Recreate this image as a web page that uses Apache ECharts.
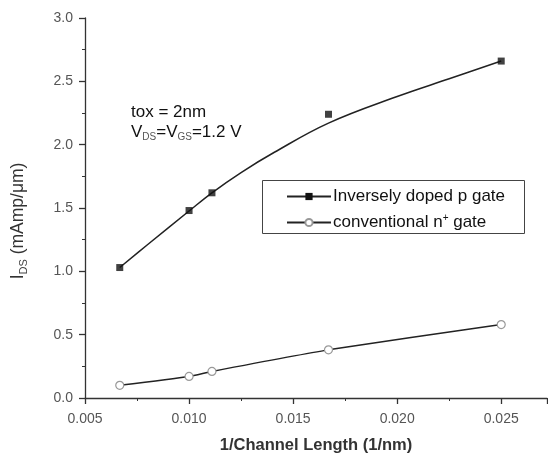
<!DOCTYPE html>
<html><head><meta charset="utf-8">
<script src="https://cdn.jsdelivr.net/npm/echarts@6/dist/echarts.min.js"></script>
<style>html,body{margin:0;padding:0;background:#fff}#c{width:548px;height:454px}</style>
</head><body><div id="c"></div>
<script>
var xTicks = [0.005, 0.010, 0.015, 0.020, 0.025];
var yTicks = [0.0, 0.5, 1.0, 1.5, 2.0, 2.5, 3.0];
var xPoints = [0.00667, 0.0100, 0.0111, 0.0167, 0.0250];
var pGate = [1.03, 1.48, 1.62, 2.24, 2.66];
var nGate = [0.10, 0.17, 0.21, 0.38, 0.58];
var fitX = [0.00667, 0.0080, 0.0100, 0.0111, 0.0125, 0.0141, 0.0167, 0.0200, 0.0225, 0.0250];
var fitY = [1.03, 1.21, 1.476, 1.62, 1.78, 1.94, 2.17, 2.38, 2.52, 2.66];
var seriesNames = ['Inversely doped p gate', 'conventional n+ gate'];

function zip(a, b) { return a.map(function (v, i) { return [v, b[i]]; }); }
var FONT = 'Liberation Sans, Arial, sans-serif';
var chart = echarts.init(document.getElementById('c'), null, {renderer: 'canvas'});
chart.setOption({
  animation: false,
  backgroundColor: '#fff',
  grid: {left: 85, top: 18, right: 1, bottom: 56, outerBoundsMode: 'none', containLabel: false},
  xAxis: {
    type: 'value', min: 0.005, max: 0.0272, interval: 0.005,
    axisLine: {lineStyle: {color: '#333', width: 1.3}},
    axisTick: {length: 6, lineStyle: {color: '#333', width: 1.3}},
    minorTick: {show: true, splitNumber: 2, length: 3, lineStyle: {color: '#333'}},
    splitLine: {show: false},
    axisLabel: {color: '#555', fontSize: 14, fontFamily: FONT, margin: 14, showMaxLabel: false,
      formatter: function (v) { return v.toFixed(3); }},
    name: '1/Channel Length (1/nm)', nameLocation: 'middle', nameGap: 39,
    nameTextStyle: {color: '#333', fontSize: 16.5, fontWeight: 'bold', fontFamily: FONT}
  },
  yAxis: {
    type: 'value', min: 0, max: 3.0, interval: 0.5,
    axisLine: {show: true, lineStyle: {color: '#333', width: 1.3}},
    axisTick: {show: true, length: 6, lineStyle: {color: '#333', width: 1.3}},
    minorTick: {show: true, splitNumber: 2, length: 3, lineStyle: {color: '#333'}},
    splitLine: {show: false},
    axisLabel: {color: '#555', fontSize: 14, fontFamily: FONT, margin: 12,
      formatter: function (v) { return v.toFixed(1); }},
    name: '{m|I}{s|DS}{m| (mAmp/μm)}', nameLocation: 'middle', nameGap: 56, nameRotate: 90,
    nameTextStyle: {color: '#333', fontFamily: FONT, padding: [0, 26, 0, 0],
      rich: {m: {fontSize: 17.5, color: '#333', fontFamily: FONT},
             s: {fontSize: 11, color: '#444', fontFamily: FONT, padding: [10, 0, 0, 0]}}}
  },
  legend: {
    left: 281, top: 183, orient: 'vertical', itemGap: 8, itemWidth: 44, itemHeight: 9,
    data: [seriesNames[0], seriesNames[1]],
    formatter: function (n) { return n === seriesNames[1] ? 'conventional n{sup|+} gate' : n; },
    textStyle: {color: '#111', fontSize: 17, fontFamily: FONT, padding: [0, 0, 0, -3],
      rich: {sup: {fontSize: 10, color: '#111', padding: [0, 0, 9, 0], fontFamily: FONT}}}
  },
  graphic: [
    {type: 'rect', shape: {x: 262.5, y: 180.5, width: 262, height: 53},
     style: {fill: 'none', stroke: '#444', lineWidth: 1}, z: 1},
    {type: 'text', left: 131, top: 104,
     style: {text: 'tox = 2nm', fill: '#111', font: '17px ' + FONT}},
    {type: 'text', left: 131, top: 124,
     style: {text: '{m|V}{s|DS}{m|=V}{s|GS}{m|=1.2 V}', fill: '#111',
       rich: {m: {fontSize: 17, fontFamily: FONT, fill: '#111'},
              s: {fontSize: 10, fontFamily: FONT, fill: '#555', padding: [10, 0, 0, 0]}}}}
  ],
  series: [
    {name: seriesNames[0], type: 'line', data: zip(fitX, fitY), smooth: 0.4,
     showSymbol: false, symbol: 'rect', symbolSize: 9,
     lineStyle: {color: '#222', width: 1.5}, itemStyle: {color: '#111'}},
    {name: 'p gate points', type: 'scatter', data: zip(xPoints, pGate),
     symbol: 'rect', symbolSize: 7, itemStyle: {color: '#111'}, z: 3},
    {name: seriesNames[1], type: 'line', data: zip(xPoints, nGate), smooth: 0.2,
     symbol: 'circle', symbolSize: 8, showSymbol: true,
     lineStyle: {color: '#222', width: 1.5},
     itemStyle: {color: '#fff', borderColor: '#999', borderWidth: 1.2}}
  ]
});
</script></body></html>
